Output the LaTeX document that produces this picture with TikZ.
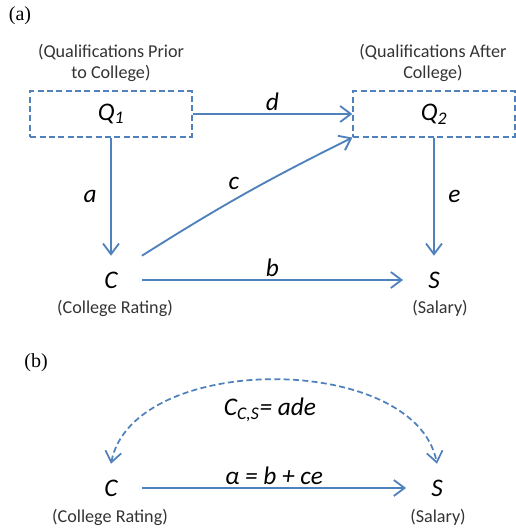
\documentclass[tikz,border=0pt]{standalone}
\usepackage{fontspec}
\setmainfont{Carlito}
\newfontfamily\panelfont{Liberation Serif}
\usetikzlibrary{arrows.meta,positioning,calc}
\definecolor{linkblue}{RGB}{79,129,189}

\begin{document}
\begin{tikzpicture}[
  x=0.75pt, y=-0.75pt,
  font=\fontsize{13.6}{15.5}\selectfont,
  >={Straight Barb[length=8pt,width=12pt]},
  qbox/.style={draw=linkblue, dash pattern=on 4.5pt off 2.5pt, line width=1.4pt, minimum width=121pt, minimum height=34pt, font=\fontsize{19}{22}\selectfont\itshape},
  var/.style={minimum width=46pt, minimum height=36pt, inner sep=0pt, font=\fontsize{19}{22}\selectfont\itshape},
  note/.style={align=center, text=black!80, inner sep=0pt},
  coef/.style={font=\fontsize{19}{22}\selectfont\itshape, inner sep=2pt},
  panel/.style={font=\panelfont\fontsize{15}{17}\selectfont},
  arrow/.style={->, draw=linkblue, line width=1.4pt},
  dualarrow/.style={<->, draw=linkblue, line width=1.3pt, dash pattern=on 4.5pt off 2.5pt}
]
\useasboundingbox (0,0) rectangle (515,532);

% (a) full path model
\node[panel] (pa) at (20,16) {(a)};
\node[qbox] (q1) at (111,114) {Q\textsubscript{1}};
\node[qbox] (q2) at (434,114) {Q\textsubscript{2}};
\node[note] (q1note) at (111,63) {(Qualifications Prior\\to College)};
\node[note] (q2note) at (433,63) {(Qualifications After\\College)};

\node[var] (c) at (111,280) {C};
\node[note] (cnote) at (115,308) {(College Rating)};
\node[var] (s) at (434,280) {S};
\node[note] (snote) at (440,308) {(Salary)};

\draw[arrow] (q1) -- node[coef, above] (ld) {d} (q2);
\draw[arrow] (q1) -- node[coef, left=8pt] (la) {a} (c);
\draw[arrow] (c.north east) to[bend left=3] node[coef, above left=0pt and 2pt] (lc) {c} (q2.south west);
\draw[arrow] (c) -- node[coef, above] (lb) {b} (s);
\draw[arrow] (q2) -- node[coef, right=8pt] (le) {e} (s);

% (b) reduced model
\node[panel] (pb) at (36,363) {(b)};
\node[var] (c2) at (111,488) {C};
\node[note] (c2note) at (110,517) {(College Rating)};
\node[var] (s2) at (437,488) {S};
\node[note] (s2note) at (438,517) {(Salary)};

\draw[arrow] (c2) -- node[coef, above] (lalpha) {α = b + ce} (s2);
\draw[dualarrow] (c2.north) .. controls +(22,-112) and +(-22,-112) .. (s2.north);
\node[coef] (lcov) at (270,410) {C\textsubscript{C,S}= ade};

\end{tikzpicture}
\end{document}
